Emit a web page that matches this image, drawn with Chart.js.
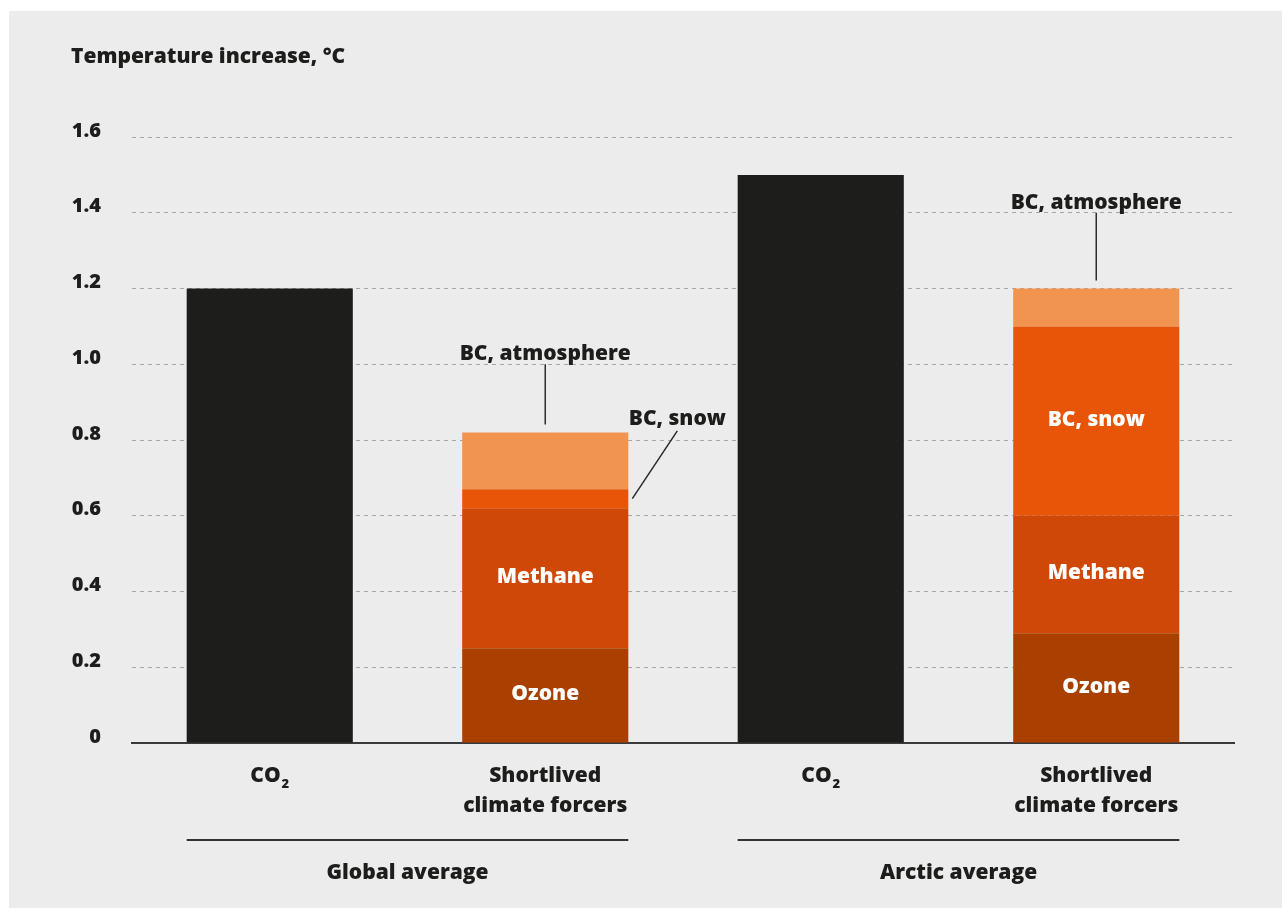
<!DOCTYPE html>
<html>
<head>
<meta charset="utf-8">
<title>Temperature increase by forcer</title>
<script src="https://cdn.jsdelivr.net/npm/chart.js@4/dist/chart.umd.min.js"></script>
<style>
  html, body { margin: 0; padding: 0; background: #ffffff; }
  #wrap { width: 1282px; height: 908px; position: relative; }
</style>
</head>
<body>
<div id="wrap"><canvas id="chart" width="1282" height="908"></canvas></div>
<script>
// Categories along the x axis (line arrays are drawn as stacked lines)
const categories = ['CO₂', ['Shortlived', 'climate forcers'], 'CO₂', ['Shortlived', 'climate forcers']];
// Region groups spanning pairs of categories
const groupLabels = ['Global average', 'Arctic average'];
const groupStart = [0, 2];
const groupEnd = [1, 3];

// Series values, °C (null where the series has no bar)
const co2 = [1.2, null, 1.5, null];
const ozone = [null, 0.25, null, 0.29];
const methane = [null, 0.37, null, 0.31];
const bcSnow = [null, 0.05, null, 0.50];
const bcAtmosphere = [null, 0.15, null, 0.10];

const seriesNames = ['CO₂', 'Ozone', 'Methane', 'BC, snow', 'BC, atmosphere'];

// Y axis
const yTitle = 'Temperature increase, °C';
const yTickLabels = ['0', '0.2', '0.4', '0.6', '0.8', '1.0', '1.2', '1.4', '1.6'];

// Segment names written inside their bars: [dataset index, category index]
const insideLabels = [[1, 1], [2, 1], [1, 3], [2, 3], [3, 3]];

// Callouts: text, category, dataset, y value of the text baseline, style
const calloutText = ['BC, atmosphere', 'BC, snow', 'BC, atmosphere'];
const calloutCategory = [1, 1, 3];
const calloutDataset = [4, 3, 4];
const calloutBaseline = [1.0, 0.84, 1.4];
const calloutKind = ['above', 'side', 'above'];

const FONT = '"Open Sans", "DejaVu Sans", sans-serif';
const WEIGHT = 800;
const INK = '#1d1d1b';

// Draws text where "₂"-style digits are rendered as smaller, lowered numerals
function drawRich(ctx, text, x, y, size) {
  const subs = '₀₁₂₃₄₅₆₇₈₉';
  const parts = [];
  for (const ch of text) {
    const i = subs.indexOf(ch);
    const sub = i >= 0;
    const c = sub ? String(i) : ch;
    if (parts.length && parts[parts.length - 1].sub === sub) parts[parts.length - 1].t += c;
    else parts.push({ t: c, sub });
  }
  let total = 0;
  for (const p of parts) {
    ctx.font = `${WEIGHT} ${p.sub ? Math.round(size * 0.62) : size}px ${FONT}`;
    p.w = ctx.measureText(p.t).width + (p.sub ? 1 : 0);
    total += p.w;
  }
  let cx = x - total / 2;
  ctx.textAlign = 'left';
  for (const p of parts) {
    ctx.font = `${WEIGHT} ${p.sub ? Math.round(size * 0.62) : size}px ${FONT}`;
    ctx.fillText(p.t, cx + (p.sub ? 1 : 0), y + (p.sub ? size * 0.3 : 0));
    cx += p.w;
  }
}

const panelPlugin = {
  id: 'panel',
  beforeDraw(chart) {
    const ctx = chart.ctx;
    ctx.save();
    ctx.fillStyle = '#ffffff';
    ctx.fillRect(0, 0, chart.width, chart.height);
    ctx.fillStyle = '#ececec';
    ctx.fillRect(9, 11, chart.width - 9, chart.height - 11);
    ctx.restore();
  }
};

const textPlugin = {
  id: 'texts',
  afterDatasetsDraw(chart) {
    const ctx = chart.ctx;
    const x = chart.scales.x;
    const y = chart.scales.y;
    const area = chart.chartArea;
    ctx.save();
    ctx.fillStyle = INK;
    ctx.strokeStyle = INK;
    ctx.textBaseline = 'alphabetic';

    // Axis title
    ctx.font = `${WEIGHT} 21px ${FONT}`;
    ctx.textAlign = 'left';
    ctx.fillText(yTitle, 71, 63);

    // Category labels under the axis
    categories.forEach((c, i) => {
      const cx = x.getPixelForValue(i);
      const lines = Array.isArray(c) ? c : [c];
      lines.forEach((ln, k) => drawRich(ctx, ln, cx, area.bottom + 39 + k * 30, 21));
    });

    // Group rules and group names
    const bar0 = chart.getDatasetMeta(0).data[0];
    const half = bar0.width / 2;
    groupLabels.forEach((g, i) => {
      const x0 = x.getPixelForValue(groupStart[i]) - half;
      const x1 = x.getPixelForValue(groupEnd[i]) + half;
      ctx.lineWidth = 2;
      ctx.strokeStyle = '#333333';
      ctx.beginPath();
      ctx.moveTo(x0, area.bottom + 97);
      ctx.lineTo(x1, area.bottom + 97);
      ctx.stroke();
      drawRich(ctx, g, (x0 + x1) / 2, area.bottom + 136, 21);
    });

    // Names inside bar segments
    ctx.fillStyle = '#ffffff';
    insideLabels.forEach(([d, c]) => {
      const el = chart.getDatasetMeta(d).data[c];
      const cy = (el.y + el.base) / 2;
      ctx.font = `${WEIGHT} 21px ${FONT}`;
      ctx.textAlign = 'center';
      ctx.textBaseline = 'middle';
      ctx.fillText(seriesNames[d], el.x, cy - 1);
    });

    // Callouts with leader lines
    ctx.fillStyle = INK;
    ctx.strokeStyle = '#2b2b2b';
    ctx.lineWidth = 1.5;
    ctx.textBaseline = 'alphabetic';
    calloutText.forEach((t, i) => {
      const el = chart.getDatasetMeta(calloutDataset[i]).data[calloutCategory[i]];
      const gy = y.getPixelForValue(calloutBaseline[i]);
      ctx.font = `${WEIGHT} 21px ${FONT}`;
      ctx.textAlign = 'center';
      if (calloutKind[i] === 'above') {
        ctx.fillText(t, el.x, gy - 4);
        ctx.beginPath();
        ctx.moveTo(el.x, gy);
        ctx.lineTo(el.x, el.y - 8);
        ctx.stroke();
      } else {
        const tx = el.x + el.width / 2 + 49;
        ctx.fillText(t, tx, gy);
        ctx.beginPath();
        ctx.moveTo(tx, gy + 6);
        ctx.lineTo(el.x + el.width / 2 + 4, (el.y + el.base) / 2);
        ctx.stroke();
      }
    });
    ctx.restore();
  }
};

const colors = ['#1d1d1b', '#aa4000', '#d04808', '#e95508', '#f09450'];
const values = [co2, ozone, methane, bcSnow, bcAtmosphere];

new Chart(document.getElementById('chart'), {
  type: 'bar',
  data: {
    labels: categories,
    datasets: values.map((v, i) => ({
      label: seriesNames[i],
      data: v,
      backgroundColor: colors[i],
      borderWidth: 0,
      barPercentage: 0.603,
      categoryPercentage: 1.0,
      stack: 'all'
    }))
  },
  options: {
    responsive: false,
    animation: false,
    layout: { padding: { top: 137, right: 48, left: 0, bottom: 0 } },
    plugins: { legend: { display: false }, tooltip: { enabled: false }, title: { display: false } },
    scales: {
      x: {
        stacked: true,
        grid: { display: false, drawTicks: false },
        border: { display: true, color: '#3a3a3a', width: 2 },
        ticks: { display: false },
        afterFit(scale) { scale.height = 165; }
      },
      y: {
        stacked: true,
        min: 0,
        max: 1.6,
        grid: {
          drawTicks: false,
          lineWidth: 1,
          color: ctx => (ctx.tick && ctx.tick.value === 0 ? 'rgba(0,0,0,0)' : '#a6a6a6')
        },
        border: { display: false, dash: [4, 4] },
        ticks: {
          stepSize: 0.2,
          padding: 31,
          labelOffset: -6,
          color: INK,
          font: { family: FONT, size: 20, weight: '800' },
          callback: (v, i) => yTickLabels[i]
        },
        afterFit(scale) { scale.width = 132; }
      }
    }
  },
  plugins: [panelPlugin, textPlugin]
});
</script>
</body>
</html>
